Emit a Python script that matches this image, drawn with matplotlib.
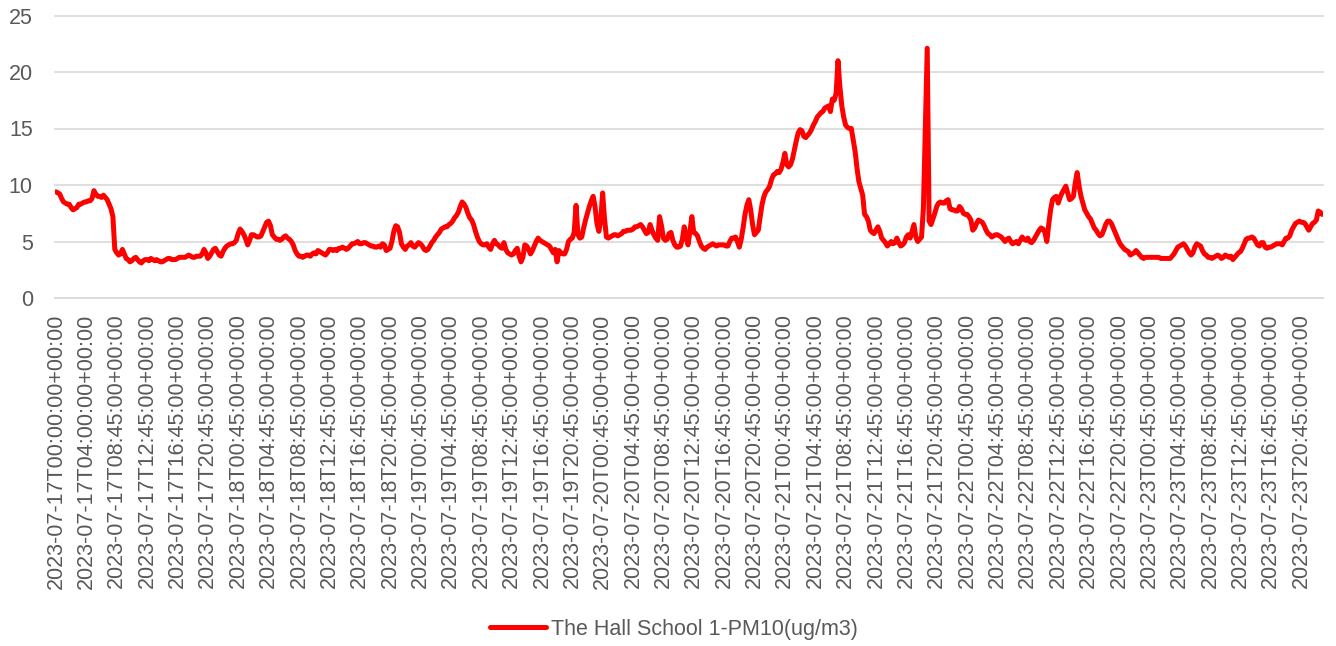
import matplotlib
matplotlib.use("Agg")
import matplotlib.pyplot as plt

# PM10 readings, 15 minute steps (16 values per row = one label step)
pm10 = [
    9.4, 9.3, 9.2, 8.8, 8.5, 8.4, 8.3, 8.3, 8.0, 7.8, 7.9, 8.0, 8.3, 8.3, 8.4, 8.5,
    8.5, 8.6, 8.6, 8.8, 9.5, 9.2, 9.0, 9.0, 8.9, 9.1, 8.9, 8.7, 8.3, 7.9, 7.2, 4.3,
    4.0, 3.8, 3.9, 4.3, 3.9, 3.5, 3.4, 3.2, 3.3, 3.5, 3.6, 3.4, 3.2, 3.1, 3.3, 3.4,
    3.4, 3.3, 3.5, 3.4, 3.3, 3.4, 3.3, 3.2, 3.2, 3.3, 3.4, 3.5, 3.5, 3.4, 3.4, 3.4,
    3.5, 3.6, 3.6, 3.6, 3.6, 3.7, 3.8, 3.7, 3.6, 3.6, 3.7, 3.7, 3.7, 3.9, 4.3, 4.0,
    3.5, 3.7, 4.0, 4.3, 4.4, 4.1, 3.8, 3.7, 4.1, 4.4, 4.6, 4.7, 4.8, 4.8, 4.9, 5.1,
    5.7, 6.1, 5.9, 5.6, 5.2, 4.7, 5.1, 5.6, 5.6, 5.5, 5.4, 5.4, 5.5, 5.9, 6.3, 6.7,
    6.8, 6.4, 5.6, 5.4, 5.2, 5.2, 5.1, 5.2, 5.4, 5.5, 5.3, 5.2, 5.0, 4.7, 4.2, 3.9,
    3.7, 3.7, 3.6, 3.7, 3.8, 3.8, 3.7, 3.9, 4.0, 3.9, 4.2, 4.1, 4.0, 3.9, 3.8, 4.0,
    4.3, 4.3, 4.2, 4.3, 4.2, 4.4, 4.4, 4.5, 4.4, 4.3, 4.4, 4.6, 4.8, 4.8, 4.9, 5.0,
    4.8, 4.8, 4.9, 4.9, 4.8, 4.7, 4.6, 4.6, 4.5, 4.5, 4.6, 4.5, 4.8, 4.7, 4.2, 4.3,
    4.4, 5.0, 5.9, 6.4, 6.3, 5.8, 4.8, 4.5, 4.3, 4.6, 4.7, 4.9, 4.6, 4.5, 4.7, 4.9,
    4.8, 4.6, 4.3, 4.2, 4.3, 4.6, 4.9, 5.1, 5.4, 5.6, 5.8, 6.1, 6.2, 6.3, 6.3, 6.5,
    6.6, 6.8, 7.1, 7.3, 7.6, 8.1, 8.5, 8.3, 8.0, 7.5, 7.1, 6.9, 6.5, 5.9, 5.4, 5.0,
    4.8, 4.7, 4.7, 4.8, 4.5, 4.3, 4.8, 5.1, 4.8, 4.7, 4.5, 4.4, 4.9, 4.3, 4.0, 3.9,
    3.8, 3.9, 4.2, 4.4, 3.7, 3.2, 3.6, 4.7, 4.6, 4.3, 3.9, 4.2, 4.6, 5.0, 5.3, 5.1,
    5.0, 4.9, 4.8, 4.7, 4.6, 4.3, 4.0, 4.3, 3.2, 4.2, 4.0, 3.9, 3.9, 4.3, 5.0, 5.2,
    5.3, 5.8, 8.2, 5.6, 5.3, 5.4, 6.2, 6.9, 7.5, 8.1, 8.6, 9.0, 8.1, 6.6, 5.9, 6.9,
    9.3, 7.0, 5.4, 5.3, 5.4, 5.5, 5.6, 5.6, 5.5, 5.6, 5.7, 5.9, 5.9, 6.0, 6.0, 6.0,
    6.1, 6.3, 6.3, 6.4, 6.5, 6.3, 6.0, 5.7, 5.8, 6.5, 6.0, 5.6, 5.3, 5.1, 7.2, 6.4,
    5.3, 5.1, 5.2, 5.7, 5.8, 5.1, 4.7, 4.5, 4.5, 4.6, 5.2, 6.3, 5.4, 4.7, 5.9, 7.2,
    5.8, 5.7, 5.5, 5.0, 4.6, 4.4, 4.3, 4.5, 4.6, 4.7, 4.8, 4.7, 4.6, 4.7, 4.7, 4.7,
    4.7, 4.6, 4.6, 5.0, 5.3, 5.3, 5.4, 5.0, 4.5, 5.2, 6.2, 7.4, 8.2, 8.7, 7.8, 6.5,
    5.6, 5.8, 6.0, 7.2, 8.3, 9.0, 9.4, 9.6, 9.9, 10.5, 10.9, 11.0, 11.2, 11.1, 11.4, 12.0,
    12.8, 11.8, 11.6, 11.8, 12.3, 13.1, 13.9, 14.6, 14.9, 14.8, 14.3, 14.2, 14.4, 14.6, 14.9, 15.3,
    15.6, 16.0, 16.2, 16.4, 16.5, 16.8, 16.9, 17.0, 16.5, 17.6, 17.5, 18.1, 21.0, 18.7, 17.0, 16.0,
    15.3, 15.1, 15.0, 15.0, 14.0, 13.0, 11.5, 10.3, 9.7, 9.1, 7.4, 7.2, 6.8, 6.0, 5.8, 5.7,
    6.0, 6.3, 5.9, 5.3, 5.1, 4.9, 4.6, 4.8, 5.0, 4.8, 4.9, 5.3, 4.9, 4.6, 4.7, 4.9,
    5.4, 5.6, 5.3, 5.9, 6.5, 5.4, 5.0, 5.2, 5.4, 8.0, 15.0, 22.1, 6.8, 6.5, 7.0, 7.5,
    8.1, 8.4, 8.5, 8.4, 8.4, 8.6, 8.7, 7.9, 7.8, 7.8, 7.7, 7.7, 8.1, 7.9, 7.5, 7.4,
    7.4, 7.2, 6.9, 6.0, 6.2, 6.6, 6.9, 6.8, 6.7, 6.4, 6.0, 5.7, 5.6, 5.4, 5.5, 5.6,
    5.6, 5.5, 5.4, 5.2, 5.0, 5.2, 5.3, 5.0, 4.8, 4.9, 5.0, 4.8, 5.1, 5.4, 5.2, 5.1,
    5.3, 5.0, 4.9, 5.1, 5.4, 5.7, 6.0, 6.2, 6.1, 5.8, 5.0, 6.5, 7.8, 8.7, 8.9, 9.0,
    8.4, 8.9, 9.3, 9.6, 9.9, 9.3, 8.7, 8.8, 9.0, 10.2, 11.1, 9.9, 9.0, 8.4, 7.8, 7.5,
    7.2, 7.0, 6.6, 6.2, 6.0, 5.7, 5.5, 5.6, 6.0, 6.5, 6.8, 6.8, 6.6, 6.2, 5.8, 5.4,
    5.0, 4.7, 4.5, 4.3, 4.2, 4.1, 3.8, 3.9, 4.0, 4.2, 4.0, 3.8, 3.6, 3.5, 3.6, 3.6,
    3.6, 3.6, 3.6, 3.6, 3.6, 3.6, 3.5, 3.5, 3.5, 3.5, 3.5, 3.5, 3.7, 3.9, 4.2, 4.5,
    4.6, 4.7, 4.8, 4.6, 4.3, 4.0, 3.8, 4.0, 4.5, 4.8, 4.7, 4.6, 4.2, 3.9, 3.8, 3.6,
    3.6, 3.5, 3.6, 3.7, 3.8, 3.7, 3.5, 3.6, 3.8, 3.7, 3.6, 3.7, 3.4, 3.6, 3.8, 4.0,
    4.1, 4.4, 4.8, 5.2, 5.3, 5.3, 5.4, 5.3, 5.0, 4.7, 4.6, 4.9, 4.9, 4.5, 4.4, 4.5,
    4.5, 4.6, 4.7, 4.8, 4.8, 4.8, 4.7, 5.0, 5.3, 5.3, 5.5, 6.0, 6.3, 6.6, 6.7, 6.8,
    6.7, 6.7, 6.6, 6.3, 6.0, 6.3, 6.6, 6.7, 6.9, 7.7, 7.6, 7.4,
]

tick_labels = [
    "2023-07-17T00:00:00+00:00",
    "2023-07-17T04:00:00+00:00",
    "2023-07-17T08:45:00+00:00",
    "2023-07-17T12:45:00+00:00",
    "2023-07-17T16:45:00+00:00",
    "2023-07-17T20:45:00+00:00",
]
for day in range(18, 24):
    for hour in ["00", "04", "08", "12", "16", "20"]:
        tick_labels.append(f"2023-07-{day}T{hour}:45:00+00:00")
label_step = 16
series_name = "The Hall School 1-PM10(ug/m3)"

plt.rcParams["font.family"] = ["Liberation Sans", "DejaVu Sans"]
text_grey = "#595959"

fig = plt.figure(figsize=(13.36, 6.46), dpi=100)
ax = fig.add_axes([55 / 1336, 1 - 298 / 646, 1268 / 1336, 282.5 / 646])

ax.plot(range(len(pm10)), pm10, color="#ff0000", lw=3.6,
        solid_joinstyle="round", solid_capstyle="round", label=series_name)

ax.set_xlim(-0.5, len(pm10) - 0.5)
ax.set_ylim(0, 25)
ax.set_yticks(range(0, 26, 5))
ax.set_xticks(range(0, len(pm10), label_step))
ax.set_xticklabels(tick_labels, rotation=90)

ax.grid(axis="y", color="#d9d9d9", lw=1.2)
for gl in ax.get_ygridlines():
    gl.set_clip_on(False)
ax.set_axisbelow(True)
for side in ["top", "right", "left"]:
    ax.spines[side].set_visible(False)
ax.spines["bottom"].set_color("#d9d9d9")
ax.spines["bottom"].set_linewidth(1.2)

ax.tick_params(axis="both", length=0, labelsize=15.5, labelcolor=text_grey)
ax.tick_params(axis="y", pad=16)
ax.tick_params(axis="x", pad=11)

fig.legend(loc="center", bbox_to_anchor=(674 / 1336, 1 - 629 / 646),
           frameon=False, fontsize=15.5, handlelength=2.6, handletextpad=0.2,
           labelcolor=text_grey)

fig.savefig("out.png", dpi=100)
